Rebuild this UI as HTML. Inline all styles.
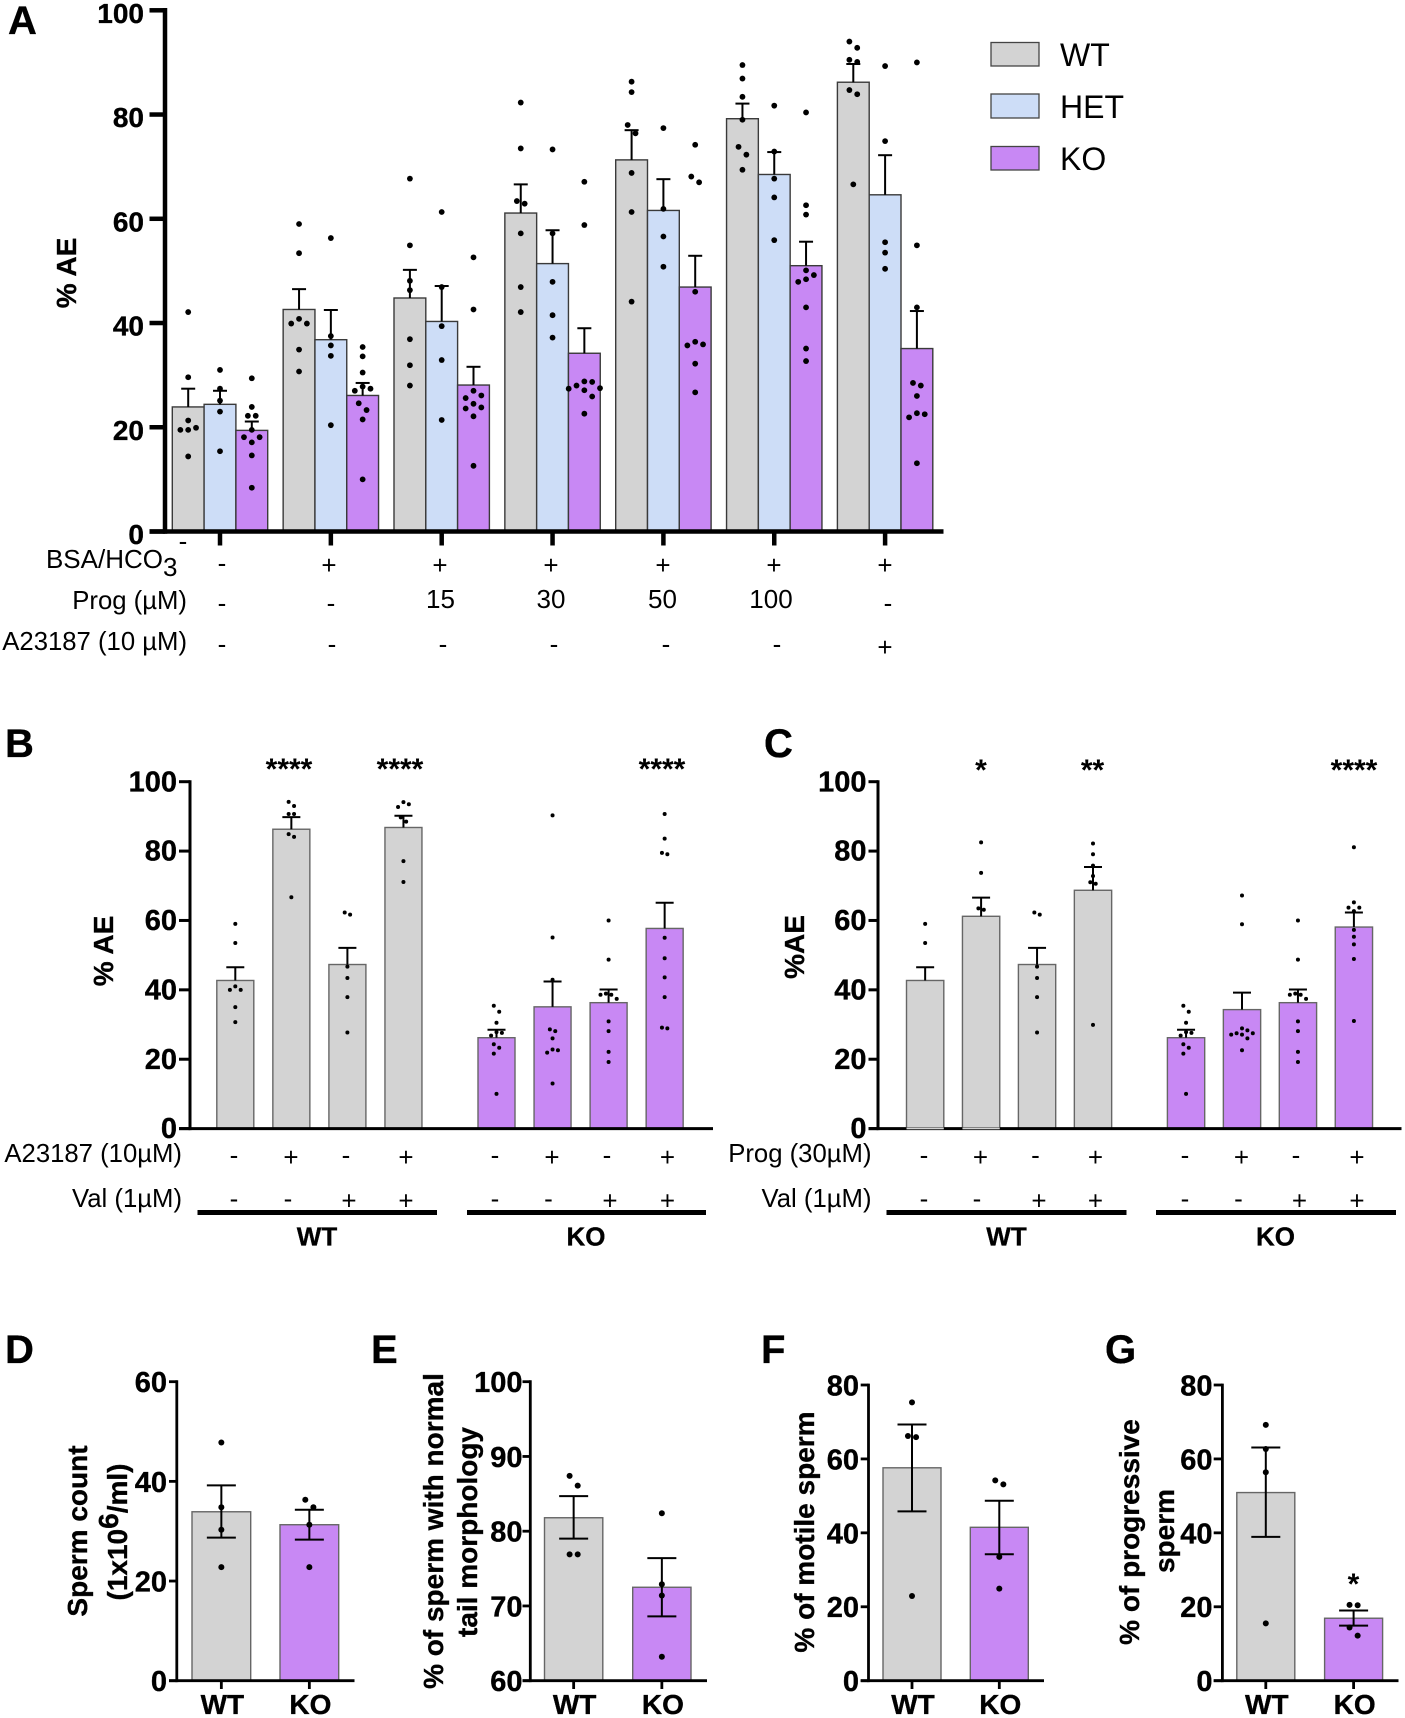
<!DOCTYPE html>
<html lang="en">
<head>
<meta charset="utf-8">
<title>Acrosome reaction and sperm parameters</title>
<style>
html,body{margin:0;padding:0;background:#fff;}
svg{display:block;}
text{font-family:"Liberation Sans",sans-serif;fill:#000;}
.letter{font-size:40px;font-weight:bold;stroke:#000;stroke-width:.35px;}
.title{font-size:28px;font-weight:bold;text-anchor:middle;stroke:#000;stroke-width:.35px;}
.row{font-size:25.7px;text-anchor:end;}
.sym{font-size:26px;text-anchor:middle;}
.star{font-size:30px;font-weight:bold;text-anchor:middle;}
.grp{font-size:26px;font-weight:bold;text-anchor:middle;stroke:#000;stroke-width:.3px;}
.tick-label{font-weight:bold;stroke:#000;stroke-width:.35px;}
.leg{font-size:32px;}
</style>
</head>
<body>
<svg id="figure" width="1405" height="1718" viewBox="0 0 1405 1718" xmlns="http://www.w3.org/2000/svg">
<rect width="1405" height="1718" fill="#fff"/>

<!-- Panel letters -->
<text class="letter" x="8" y="34">A</text>
<text class="letter" x="5" y="757">B</text>
<text class="letter" x="764" y="757">C</text>
<text class="letter" x="5" y="1363">D</text>
<text class="letter" x="371" y="1363">E</text>
<text class="letter" x="761" y="1363">F</text>
<text class="letter" x="1105" y="1363">G</text>

<!-- Y titles -->
<text class="title" transform="translate(76,273) rotate(-90)">% AE</text>
<text class="title" transform="translate(113,951) rotate(-90)">% AE</text>
<text class="title" transform="translate(804,947) rotate(-90)">%AE</text>
<text class="title" transform="translate(87,1531) rotate(-90)">Sperm count</text>
<text class="title" transform="translate(127,1532) rotate(-90)">(1x10<tspan dy="-9">6</tspan><tspan dy="9">/ml)</tspan></text>
<text class="title" transform="translate(443,1531) rotate(-90)">% of sperm with normal</text>
<text class="title" transform="translate(477,1532) rotate(-90)">tail morphology</text>
<text class="title" transform="translate(814,1532) rotate(-90)">% of motile sperm</text>
<text class="title" transform="translate(1139,1532) rotate(-90)">% of progressive</text>
<text class="title" transform="translate(1174,1531) rotate(-90)">sperm</text>

<!-- Legend -->
<g>
<rect x="991" y="42.5" width="48" height="23.5" fill="#d3d3d3" stroke="#444" stroke-width="1.3"/>
<text class="leg" x="1060" y="66">WT</text>
<rect x="991" y="94" width="48" height="24" fill="#cdddf7" stroke="#444" stroke-width="1.3"/>
<text class="leg" x="1060" y="118">HET</text>
<rect x="991" y="146.5" width="48" height="23.5" fill="#c888f4" stroke="#444" stroke-width="1.3"/>
<text class="leg" x="1060" y="170">KO</text>
</g>

<!-- Panel A treatment rows -->
<g>
<text class="sym" x="183" y="550">-</text>
<text class="row" x="163" y="568" style="font-size:26px">BSA/HCO</text>
<text x="163" y="576" style="font-size:26px">3</text>
<text class="row" x="187" y="609">Prog (µM)</text>
<text class="row" x="187" y="650">A23187 (10 µM)</text>
<text class="sym" x="222" y="572">-</text>
<text class="sym" x="329" y="574">+</text>
<text class="sym" x="440" y="574">+</text>
<text class="sym" x="551" y="574">+</text>
<text class="sym" x="663" y="574">+</text>
<text class="sym" x="774" y="574">+</text>
<text class="sym" x="885" y="574">+</text>
<text class="sym" x="222" y="612">-</text>
<text class="sym" x="331" y="612">-</text>
<text class="sym" x="440.5" y="608">15</text>
<text class="sym" x="551" y="608">30</text>
<text class="sym" x="662.5" y="608">50</text>
<text class="sym" x="771" y="608">100</text>
<text class="sym" x="888" y="612">-</text>
<text class="sym" x="222" y="653">-</text>
<text class="sym" x="332" y="653">-</text>
<text class="sym" x="443" y="653">-</text>
<text class="sym" x="554" y="653">-</text>
<text class="sym" x="666" y="653">-</text>
<text class="sym" x="777" y="653">-</text>
<text class="sym" x="885" y="656">+</text>
</g>

<!-- Panel B treatment rows -->
<g>
<text class="row" x="182" y="1162">A23187 (10µM)</text>
<text class="row" x="182" y="1207">Val (1µM)</text>
<text class="sym" x="234" y="1164">-</text>
<text class="sym" x="291" y="1166">+</text>
<text class="sym" x="346" y="1164">-</text>
<text class="sym" x="406" y="1166">+</text>
<text class="sym" x="495" y="1164">-</text>
<text class="sym" x="552" y="1166">+</text>
<text class="sym" x="607" y="1164">-</text>
<text class="sym" x="667.5" y="1166">+</text>
<text class="sym" x="234" y="1207.5">-</text>
<text class="sym" x="288" y="1207.5">-</text>
<text class="sym" x="349" y="1209.5">+</text>
<text class="sym" x="406" y="1209.5">+</text>
<text class="sym" x="495" y="1207.5">-</text>
<text class="sym" x="548.5" y="1207.5">-</text>
<text class="sym" x="610" y="1209.5">+</text>
<text class="sym" x="667.5" y="1209.5">+</text>
<rect x="197.5" y="1210" width="239.5" height="5" fill="#000"/>
<rect x="467" y="1210" width="239" height="5" fill="#000"/>
<text class="grp" x="317" y="1245.5">WT</text>
<text class="grp" x="586" y="1245.5">KO</text>
<text class="star" x="289" y="779">****</text>
<text class="star" x="400" y="779">****</text>
<text class="star" x="662" y="779">****</text>
</g>

<!-- Panel C treatment rows -->
<g>
<text class="row" x="871.5" y="1162">Prog (30µM)</text>
<text class="row" x="871.5" y="1207">Val (1µM)</text>
<text class="sym" x="924" y="1164">-</text>
<text class="sym" x="980.5" y="1166">+</text>
<text class="sym" x="1035.5" y="1164">-</text>
<text class="sym" x="1095.5" y="1166">+</text>
<text class="sym" x="1185" y="1164">-</text>
<text class="sym" x="1241.5" y="1166">+</text>
<text class="sym" x="1296" y="1164">-</text>
<text class="sym" x="1357" y="1166">+</text>
<text class="sym" x="924" y="1207.5">-</text>
<text class="sym" x="977" y="1207.5">-</text>
<text class="sym" x="1039" y="1209.5">+</text>
<text class="sym" x="1095.5" y="1209.5">+</text>
<text class="sym" x="1185" y="1207.5">-</text>
<text class="sym" x="1238.5" y="1207.5">-</text>
<text class="sym" x="1299.5" y="1209.5">+</text>
<text class="sym" x="1357" y="1209.5">+</text>
<rect x="886.5" y="1210" width="240" height="5" fill="#000"/>
<rect x="1156" y="1210" width="240" height="5" fill="#000"/>
<text class="grp" x="1006.5" y="1245.5">WT</text>
<text class="grp" x="1275.5" y="1245.5">KO</text>
<text class="star" x="981" y="780">*</text>
<text class="star" x="1092.5" y="780">**</text>
<text class="star" x="1354" y="780">****</text>
</g>

<text class="star" x="1353.5" y="1594">*</text>
</svg>

<script>
/* ---------- Panel A data ---------- */
const aTicks = [0, 20, 40, 60, 80, 100];
const aGroups = ['none', 'bsa', 'prog15', 'prog30', 'prog50', 'prog100', 'a23187'];
const aWtMeans = [23.9, 42.6, 44.8, 61.1, 71.3, 79.2, 86.2];
const aWtHigh = [27.4, 46.5, 50.2, 66.6, 77.0, 82.1, 89.7];
const aHetMeans = [24.4, 36.8, 40.3, 51.4, 61.6, 68.5, 64.6];
const aHetHigh = [27.0, 42.5, 47.1, 57.8, 67.6, 72.8, 72.2];
const aKoMeans = [19.4, 26.1, 28.1, 34.2, 46.9, 51.0, 35.1];
const aKoHigh = [21.1, 28.5, 31.6, 39.0, 52.9, 55.6, 42.3];
const aWtDots = [
  [42.1, 29.6, 21.3, 19.9, 19.5, 19.5, 14.4],
  [59.0, 53.4, 40.8, 39.9, 39.9, 34.9, 30.7],
  [67.7, 54.9, 48.1, 46.3, 36.9, 31.9, 28.0],
  [82.3, 73.5, 63.4, 62.9, 57.2, 46.9, 42.1],
  [86.3, 84.3, 78.0, 76.4, 68.8, 61.3, 44.1],
  [89.5, 86.9, 83.4, 79.0, 73.8, 72.3, 69.4],
  [94.0, 92.8, 90.5, 90.1, 84.7, 83.9, 66.6]
];
const aHetDots = [
  [31.0, 27.4, 25.1, 23.0, 15.4],
  [56.3, 37.5, 35.7, 33.7, 20.4],
  [61.3, 46.9, 39.4, 32.9, 21.4],
  [73.3, 57.2, 47.9, 41.5, 37.2],
  [77.4, 61.9, 56.6, 50.8],
  [81.7, 72.9, 67.7, 64.1, 55.9],
  [89.3, 74.9, 55.5, 53.5, 50.4]
];
const aKoDots = [
  [29.4, 23.9, 22.2, 22.2, 19.5, 18.1, 18.1, 17.1, 14.6, 8.4],
  [35.4, 33.6, 30.5, 27.8, 27.4, 27.0, 24.6, 23.3, 21.5, 10.0],
  [52.6, 42.6, 27.0, 26.1, 25.6, 24.5, 23.8, 23.6, 22.1, 12.6],
  [67.1, 58.8, 28.8, 28.7, 28.0, 27.5, 27.4, 27.1, 25.9, 22.6],
  [74.2, 68.1, 67.0, 46.0, 36.4, 35.9, 35.7, 32.2, 26.7],
  [80.4, 62.6, 60.8, 50.1, 49.2, 48.4, 47.9, 43.0, 35.1, 32.7],
  [90.0, 54.9, 43.0, 28.5, 28.0, 26.0, 22.7, 22.5, 21.9, 13.1]
];

/* ---------- Panel B data ---------- */
const bTicks = [0, 20, 40, 60, 80, 100];
const bMeans = [42.7, 86.3, 47.3, 86.8, 26.2, 35.1, 36.3, 57.7];
const bHigh = [46.5, 89.8, 52.1, 90.2, 28.5, 42.4, 40.1, 65.1];
const bDots = [
  [59.0, 53.5, 41.0, 40.0, 40.0, 35.0, 30.7],
  [94.2, 93.0, 90.7, 90.7, 84.9, 84.1, 66.7],
  [62.3, 61.7, 46.7, 43.4, 37.9, 27.7],
  [94.1, 93.5, 92.7, 89.7, 88.5, 77.1, 71.1],
  [35.4, 33.7, 30.5, 27.8, 27.6, 26.8, 24.3, 23.3, 21.6, 10.0],
  [90.3, 55.1, 42.9, 28.6, 28.1, 26.0, 22.8, 22.6, 21.9, 13.0],
  [60.0, 48.7, 38.9, 38.6, 38.6, 37.4, 30.9, 28.1, 22.1, 19.2],
  [90.7, 83.6, 79.5, 79.1, 55.0, 49.1, 43.6, 37.9, 29.1, 28.9]
];

/* ---------- Panel C data ---------- */
const cTicks = [0, 20, 40, 60, 80, 100];
const cMeans = [42.7, 61.2, 47.3, 68.7, 26.2, 34.3, 36.3, 58.1];
const cHigh = [46.5, 66.6, 52.1, 75.4, 28.5, 39.2, 40.1, 62.3];
const cDots = [
  [59.0, 53.5],
  [82.5, 73.7, 63.5, 63.1],
  [62.3, 61.7, 46.7, 43.4, 37.9, 27.7],
  [82.2, 79.1, 75.8, 72.8, 71.0, 70.6, 29.9],
  [35.4, 33.7, 30.5, 27.8, 27.6, 26.8, 24.3, 23.3, 21.6, 10.0],
  [67.2, 58.9, 28.9, 28.3, 27.5, 27.5, 27.1, 27.1, 26.0, 22.6],
  [60.0, 48.7, 38.9, 38.6, 38.6, 37.4, 30.9, 28.1, 22.1, 19.2],
  [81.1, 65.2, 63.7, 63.7, 62.7, 57.3, 55.3, 53.1, 48.9, 31.0]
];

/* ---------- Panels D-G data ---------- */
const genotypes = ['WT', 'KO'];
const dTicks = [0, 20, 40, 60];
const dMeans = [33.9, 31.3];
const dHigh = [39.2, 34.3];
const dLow = [28.7, 28.3];
const dDots = [[47.8, 34.8, 30.3, 22.8], [36.3, 34.8, 31.3, 22.8]];
const eTicks = [60, 70, 80, 90, 100];
const eMeans = [81.8, 72.5];
const eHigh = [84.7, 76.4];
const eLow = [79.0, 68.6];
const eDots = [[87.4, 86.1, 76.9, 76.9], [82.4, 72.9, 71.4, 63.2]];
const fTicks = [0, 20, 40, 60, 80];
const fMeans = [57.6, 41.5];
const fHigh = [69.3, 48.7];
const fLow = [45.8, 34.2];
const fDots = [[75.3, 66.2, 65.9, 22.9], [54.2, 53.1, 33.5, 24.9]];
const gTicks = [0, 20, 40, 60, 80];
const gMeans = [50.9, 16.9];
const gHigh = [63.1, 19.0];
const gLow = [38.9, 14.9];
const gDots = [[69.2, 62.7, 56.4, 15.5], [20.5, 20.4, 14.4, 12.2]];

/* ---------- Colours ---------- */
const GRAY = '#d3d3d3', BLUE = '#cdddf7', PURPLE = '#c888f4';

/* ---------- Helpers ---------- */
const svg = document.getElementById('figure');
const NS = 'http://www.w3.org/2000/svg';
function make(tag, attrs, parent) {
  const node = document.createElementNS(NS, tag);
  for (const k in attrs) node.setAttribute(k, attrs[k]);
  (parent || svg).appendChild(node);
  return node;
}
function linear(v0, px0, v1, px1) {
  return function (v) { return px0 + (v - v0) * (px1 - px0) / (v1 - v0); };
}
/* Column-binned dot layout: dots that sit too close vertically move to a side column;
   clusters using an even number of columns are re-centred on the bar. */
function swarm(values, scale, r, gap) {
  const sorted = values.slice().sort(function (a, b) { return b - a; });
  const step = r * 2.7;
  const placed = [];
  let cluster = [];
  function flush() {
    const cols = {};
    cluster.forEach(function (p) { cols[p.col] = true; });
    const n = Object.keys(cols).length;
    const shift = n % 2 === 0 ? -0.5 : 0;
    cluster.forEach(function (p) {
      placed.push({ off: (p.col + shift) * step, py: p.py, v: p.v });
    });
    cluster = [];
  }
  sorted.forEach(function (v) {
    const py = scale(v);
    if (cluster.length && py - cluster[cluster.length - 1].py >= gap) flush();
    const tries = [0, 1, -1, 2, -2, 3, -3, 4, -4];
    let col = 0;
    for (let i = 0; i < tries.length; i++) {
      const clash = cluster.some(function (p) {
        return p.col === tries[i] && Math.abs(p.py - py) < gap;
      });
      if (!clash) { col = tries[i]; break; }
    }
    cluster.push({ col: col, py: py, v: v });
  });
  flush();
  return placed;
}
function drawYAxis(prefix, axisX, tickLeft, scale, ticks, sw, fontSize, labelRight, labelShift) {
  const top = Math.min.apply(null, ticks.map(scale));
  const bottom = Math.max.apply(null, ticks.map(scale));
  const axis = make('line', { x1: axisX, x2: axisX, y1: top - sw / 2, y2: bottom + sw / 2, stroke: '#000', 'stroke-width': sw });
  
  
  ticks.forEach(function (t) {
    const tick = make('line', { x1: tickLeft, x2: axisX, y1: scale(t), y2: scale(t), stroke: '#000', 'stroke-width': sw });
    
    
    const label = make('text', { class: 'tick-label', x: labelRight, y: scale(t) + fontSize * 0.36 + labelShift, 'text-anchor': 'end', 'font-size': fontSize });
    label.textContent = String(t);
    
    
  });
}
function drawXAxis(prefix, x1, x2, y, sw) {
  const axis = make('line', { x1: x1, x2: x2, y1: y, y2: y, stroke: '#000', 'stroke-width': sw });
  
  
}
function drawBar(name, o) {
  const g = make('g', {});
  
  
  const y = o.scale(o.mean);
  const rect = make('rect', { x: o.x, y: y, width: o.w, height: o.scale(o.base) - y, fill: o.fill, stroke: o.edge, 'stroke-width': o.edgeW }, g);
  
  
  const cx = o.x + o.w / 2;
  const low = o.low === undefined ? o.mean : o.low;
  const whisker = make('line', { x1: cx, x2: cx, y1: o.scale(low), y2: o.scale(o.high), stroke: '#000', 'stroke-width': o.errW }, g);
  
  
  const capTop = make('line', { x1: cx - o.cap / 2, x2: cx + o.cap / 2, y1: o.scale(o.high), y2: o.scale(o.high), stroke: '#000', 'stroke-width': o.errW }, g);
  
  
  if (o.low !== undefined) {
    const capLow = make('line', { x1: cx - o.cap / 2, x2: cx + o.cap / 2, y1: o.scale(o.low), y2: o.scale(o.low), stroke: '#000', 'stroke-width': o.errW }, g);
    
    
  }
  swarm(o.dots, o.scale, o.r, o.gap).forEach(function (p) {
    const dot = make('circle', { cx: cx + p.off, cy: p.py, r: o.r, fill: '#000' }, g);
    
    
  });
}

/* ---------- Panel A ---------- */
const yA = linear(0, 531.5, 100, 10.3);
const aGroupLeft = function (i) { return 172.3 + i * 110.85; };
const aBarW = 31.8;
aGroups.forEach(function (group, i) {
  const shared = { w: aBarW, scale: yA, base: 0, edge: '#3a3a3a', edgeW: 1.4, errW: 2, cap: 14, r: 2.9, gap: 8.5 };
  drawBar('a-bar-' + group + '-wt', Object.assign({}, shared, { x: aGroupLeft(i), mean: aWtMeans[i], high: aWtHigh[i], dots: aWtDots[i], fill: GRAY }));
  drawBar('a-bar-' + group + '-het', Object.assign({}, shared, { x: aGroupLeft(i) + aBarW, mean: aHetMeans[i], high: aHetHigh[i], dots: aHetDots[i], fill: BLUE }));
  drawBar('a-bar-' + group + '-ko', Object.assign({}, shared, { x: aGroupLeft(i) + 2 * aBarW, mean: aKoMeans[i], high: aKoHigh[i], dots: aKoDots[i], fill: PURPLE }));
  const tick = make('line', { x1: aGroupLeft(i) + 1.5 * aBarW, x2: aGroupLeft(i) + 1.5 * aBarW, y1: 531.5, y2: 545.5, stroke: '#000', 'stroke-width': 4.5 });
  
  
});
drawYAxis('a', 165, 149.5, yA, aTicks, 4.5, 28, 144, 2.5);
drawXAxis('a', 149.5, 943.5, 531.5, 4.5);

/* ---------- Panel B & C ---------- */
const yBC = linear(0, 1128.6, 100, 781.7);
function barLeftB(i) { return (i < 4 ? 216.8 : 478) + (i % 4) * 56.05; }
function barLeftC(i) { return (i < 4 ? 906.5 : 1167.4) + (i % 4) * 55.95; }
bMeans.forEach(function (m, i) {
  drawBar('b-bar-' + (i + 1), { x: barLeftB(i), w: 37, scale: yBC, base: 0, mean: m, high: bHigh[i], dots: bDots[i], fill: i < 4 ? GRAY : PURPLE, edge: '#666', edgeW: 1.4, errW: 2, cap: 18, r: 2, gap: 6 });
});
cMeans.forEach(function (m, i) {
  drawBar('c-bar-' + (i + 1), { x: barLeftC(i), w: 37.3, scale: yBC, base: 0, mean: m, high: cHigh[i], dots: cDots[i], fill: i < 4 ? GRAY : PURPLE, edge: '#666', edgeW: 1.4, errW: 2, cap: 18, r: 2, gap: 6 });
});
drawYAxis('b', 190, 179, yBC, bTicks, 3, 29, 177, -0.8);
drawXAxis('b', 179, 713, 1128.6, 3);
drawYAxis('c', 878, 868.5, yBC, cTicks, 3, 29, 866.5, -0.8);
drawXAxis('c', 868.5, 1401.5, 1128.6, 3);
[0, 1].forEach(function (i) {
  const overlap = make('rect', { x: barLeftC(i), y: 1127.5, width: 37.3, height: 1.8, fill: GRAY });
  
  
});

/* ---------- Panels D-G ---------- */
function drawSmall(prefix, p) {
  p.means.forEach(function (m, i) {
    drawBar(prefix + '-bar-' + genotypes[i].toLowerCase(), { x: p.barX[i], w: p.barW, scale: p.scale, base: p.ticks[0], mean: m, high: p.high[i], low: p.low[i], dots: p.dots[i], fill: i === 0 ? GRAY : PURPLE, edge: '#666', edgeW: 1.4, errW: 2, cap: 29, r: 3, gap: 10.5 });
    const cx = p.barX[i] + p.barW / 2;
    const tick = make('line', { x1: cx, x2: cx, y1: 1680.7, y2: 1689, stroke: '#000', 'stroke-width': 2.8 });
    
    
    const label = make('text', { class: 'tick-label', x: cx + 1, y: 1714, 'text-anchor': 'middle', 'font-size': 28 });
    label.textContent = genotypes[i];
    
    
  });
  drawYAxis(prefix, p.axisX, p.tickLeft, p.scale, p.ticks, 2.8, 29, p.labelRight, 0);
  drawXAxis(prefix, p.tickLeft, p.xEnd, 1680.7, 2.8);
}
drawSmall('d', { scale: linear(0, 1680.7, 60, 1381.7), ticks: dTicks, means: dMeans, high: dHigh, low: dLow, dots: dDots, barX: [192, 280], barW: 58.7, axisX: 176.8, tickLeft: 169, labelRight: 167, xEnd: 354.5 });
drawSmall('e', { scale: linear(60, 1680.7, 100, 1381.7), ticks: eTicks, means: eMeans, high: eHigh, low: eLow, dots: eDots, barX: [544.5, 632.7], barW: 58.3, axisX: 530.3, tickLeft: 522.5, labelRight: 522.5, xEnd: 707 });
drawSmall('f', { scale: linear(0, 1680.7, 80, 1385), ticks: fTicks, means: fMeans, high: fHigh, low: fLow, dots: fDots, barX: [883, 970.3], barW: 58, axisX: 868.5, tickLeft: 860.7, labelRight: 859, xEnd: 1044 });
drawSmall('g', { scale: linear(0, 1680.7, 80, 1385), ticks: gTicks, means: gMeans, high: gHigh, low: gLow, dots: gDots, barX: [1236.8, 1324.6], barW: 58, axisX: 1222.4, tickLeft: 1213.7, labelRight: 1212.5, xEnd: 1398.5 });
</script>
</body>
</html>
